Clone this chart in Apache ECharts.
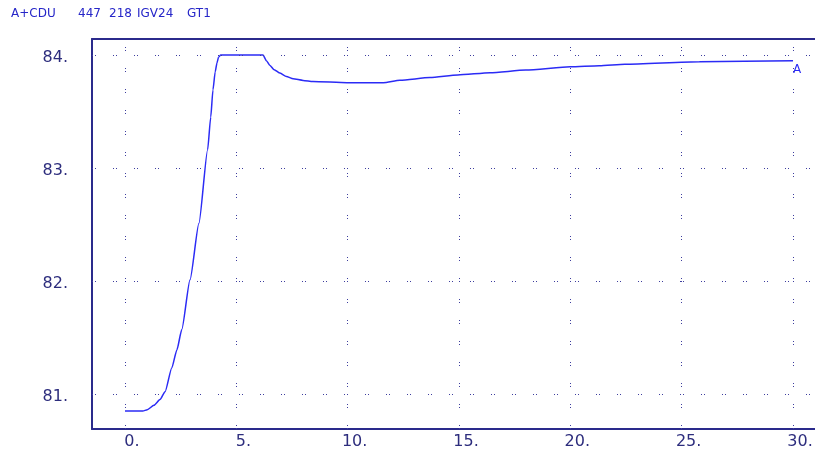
<!DOCTYPE html>
<html>
<head>
<meta charset="utf-8">
<script src="https://cdn.jsdelivr.net/npm/echarts@6/dist/echarts.min.js"></script>
<style>
html,body{margin:0;padding:0;background:#ffffff;overflow:hidden;}
#chart{width:815px;height:452px;}
</style>
</head>
<body>
<div id="chart"></div>
<script>
// ---- data ----
var timeValues = [0, 0.8, 1.0, 1.3, 1.57, 1.8, 2.1, 2.33, 2.55, 2.92, 3.32, 3.71, 3.85, 3.95, 4.05, 4.13, 4.2, 4.3, 6.2, 6.35, 6.5, 6.7, 6.96, 7.25, 7.55, 8.0, 8.44, 9.97, 11.6, 12.35, 13.7, 14.95, 16.4, 18.0, 20.0, 21.3, 22.45, 25.8, 30.0];
var seriesA = [80.85, 80.85, 80.86, 80.9, 80.95, 81.02, 81.23, 81.39, 81.57, 82.01, 82.51, 83.16, 83.45, 83.69, 83.85, 83.93, 83.98, 84.0, 84.0, 83.95, 83.91, 83.87, 83.84, 83.81, 83.79, 83.775, 83.765, 83.755, 83.755, 83.776, 83.80, 83.823, 83.843, 83.867, 83.896, 83.905, 83.918, 83.941, 83.95];
var xTicks = [0, 5, 10, 15, 20, 25, 30];
var yTicks = [81, 82, 83, 84];
var seriesName = 'A';
var titleParts = ['A+CDU', '447', '218', 'IGV24', 'GT1'];

var chart = echarts.init(document.getElementById('chart'), null, {renderer: 'canvas'});

var lineData = timeValues.map(function (t, i) { return [t, seriesA[i]]; });
var last = lineData[lineData.length - 1];

var gridDots = {color: '#3d3d9e', width: 1, type: [1, 2, 1, 17]};
var markLineData = xTicks.map(function (v) { return {xAxis: v}; })
  .concat(yTicks.map(function (v) { return {yAxis: v}; }));

var titleX = [11, 78, 109, 137, 187];
var graphics = titleParts.map(function (s, i) {
  return {
    type: 'text', left: titleX[i], top: 8,
    style: {text: s, fill: '#2626c8', font: '12px "DejaVu Sans"'}
  };
});

var labelStyle = {color: '#2d2d7d', fontFamily: 'DejaVu Sans', fontSize: 16};

var option = {
  animation: false,
  backgroundColor: '#ffffff',
  graphic: graphics,
  grid: {
    left: 92, top: 39, width: 734.4, height: 390,
    outerBoundsMode: 'none', containLabel: false,
    show: false
  },
  xAxis: [{
    type: 'value', min: -1.482, max: 31.5, position: 'bottom',
    axisLine: {show: true, onZero: false, lineStyle: {color: '#2a2a8c', width: 2}},
    axisTick: {show: false},
    splitLine: {show: false},
    axisLabel: Object.assign({
      customValues: xTicks,
      formatter: function (v) { return v + '.'; },
      margin: 5, padding: [0, 0, 0, 14]
    }, labelStyle)
  }, {
    type: 'value', min: -1.482, max: 31.5, position: 'top',
    axisLine: {show: true, onZero: false, lineStyle: {color: '#2b2a8c', width: 2}},
    axisTick: {show: false},
    splitLine: {show: false},
    axisLabel: {show: false}
  }],
  yAxis: {
    type: 'value', min: 80.690, max: 84.1416,
    axisLine: {show: true, onZero: false, lineStyle: {color: '#2a2b8c', width: 2}},
    axisTick: {show: false},
    splitLine: {show: false},
    axisLabel: Object.assign({
      customValues: yTicks,
      formatter: function (v) { return v + '.'; },
      margin: 24, verticalAlign: 'top', lineHeight: 6
    }, labelStyle)
  },
  series: [{
    name: seriesName,
    type: 'line',
    data: lineData,
    showSymbol: false,
    smooth: 0.2,
    smoothMonotone: 'x',
    lineStyle: {color: '#2b2bf5', width: 1.5},
    markLine: {
      silent: true,
      symbol: ['none', 'none'],
      label: {show: false},
      lineStyle: gridDots,
      data: markLineData
    },
    markPoint: {
      symbol: 'circle', symbolSize: 0,
      data: [{coord: last}],
      label: {
        show: true, formatter: seriesName, position: 'bottom',
        offset: [4, -2],
        color: '#2b2bf5', fontFamily: 'DejaVu Sans', fontSize: 12
      }
    }
  }]
};
chart.setOption(option);
</script>
</body>
</html>
